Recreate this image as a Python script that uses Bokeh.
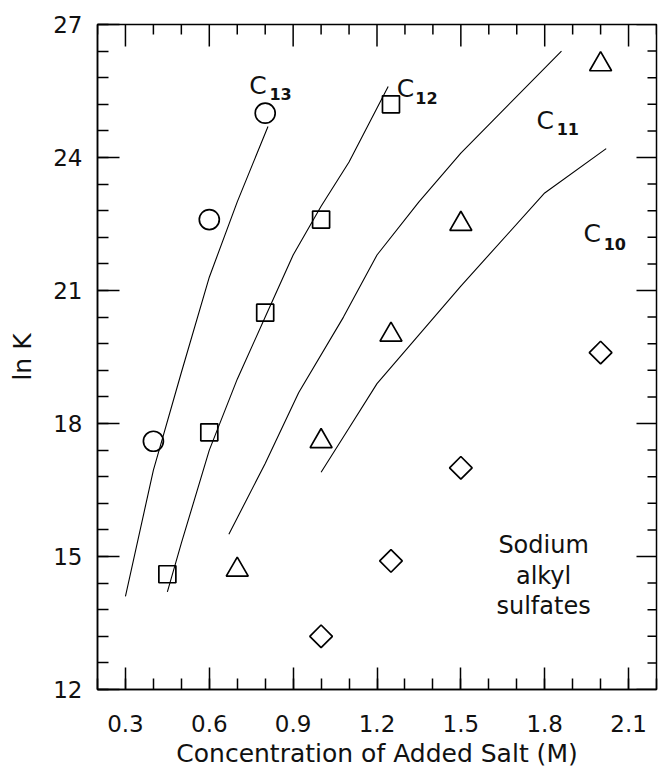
from bokeh.plotting import figure
from bokeh.models import Range1d, FixedTicker, ColumnDataSource
from bokeh.core.properties import value
from bokeh.embed import file_html
from bokeh.resources import INLINE
import math

# ---- data ----
salt_c13 = [0.4, 0.6, 0.8]
lnk_c13 = [17.6, 22.6, 25.0]
salt_c12 = [0.45, 0.6, 0.8, 1.0, 1.25]
lnk_c12 = [14.6, 17.8, 20.5, 22.6, 25.2]
salt_c11 = [0.7, 1.0, 1.25, 1.5, 2.0]
lnk_c11 = [14.7, 17.6, 20.0, 22.5, 26.1]
salt_c10 = [1.0, 1.25, 1.5, 2.0]
lnk_c10 = [13.2, 14.9, 17.0, 19.6]

fit_c13_x = [0.3, 0.4, 0.5, 0.6, 0.7, 0.81]
fit_c13_y = [14.1, 16.95, 19.15, 21.3, 23.0, 24.7]
fit_c12_x = [0.45, 0.5, 0.6, 0.7, 0.8, 0.9, 1.0, 1.1, 1.24]
fit_c12_y = [14.2, 15.3, 17.4, 19.0, 20.4, 21.8, 22.9, 23.9, 25.6]
fit_c11_x = [0.67, 0.8, 0.92, 1.08, 1.2, 1.35, 1.5, 1.86]
fit_c11_y = [15.5, 17.1, 18.7, 20.4, 21.8, 23.0, 24.1, 26.4]
fit_c10_x = [1.0, 1.1, 1.2, 1.35, 1.5, 1.8, 2.02]
fit_c10_y = [16.9, 17.9, 18.9, 20.0, 21.1, 23.2, 24.2]

x_ticks = [0.3, 0.6, 0.9, 1.2, 1.5, 1.8, 2.1]
x_tick_labels = ["0.3", "0.6", "0.9", "1.2", "1.5", "1.8", "2.1"]
y_ticks = [12, 15, 18, 21, 24, 27]
y_tick_labels = ["12", "15", "18", "21", "24", "27"]

series_names = ["C", "C", "C", "C"]
series_subs = ["13", "12", "11", "10"]
series_label_x = [0.743, 1.271, 1.771, 1.939]
series_label_y = [25.62, 25.556, 24.83, 22.29]
series_sub_x = [0.815, 1.337, 1.843, 2.011]
series_sub_y = [25.44, 25.35, 24.65, 22.06]

note_lines = ["Sodium", "alkyl", "sulfates"]
note_x = [1.796, 1.796, 1.796]
note_y = [15.25, 14.57, 13.89]

FONT = "DejaVu Sans"
INK = "#111111"

x_range = Range1d(0.2, 2.2)
y_range = Range1d(12, 27)
p = figure(width=660, height=776, output_backend="svg", toolbar_location=None,
           x_range=x_range, y_range=y_range,
           min_border_left=97, min_border_right=4, min_border_top=24, min_border_bottom=87,
           x_axis_label="Concentration of Added Salt (M)", y_axis_label="ln K")
p.grid.visible = False
p.background_fill_color = "white"
p.border_fill_color = "white"
p.outline_line_color = "black"
p.outline_line_width = 1.5

x_minor = [round(0.2 + 0.1 * i, 2) for i in range(21)]
y_minor = [round(12 + 0.6 * i, 2) for i in range(26)]

MAJOR, MINOR = 22, 11

def style_axis(ax, ticks, minor, labels):
    ax.ticker = FixedTicker(ticks=ticks, minor_ticks=minor)
    ax.major_label_overrides = {t: l for t, l in zip(ticks, labels)}
    ax.axis_line_color = "black"
    ax.axis_line_width = 1.5
    ax.major_tick_line_color = "black"
    ax.minor_tick_line_color = "black"
    ax.major_tick_line_width = 1.5
    ax.minor_tick_line_width = 1.5
    ax.major_tick_in = MAJOR
    ax.major_tick_out = 0
    ax.minor_tick_in = MINOR
    ax.minor_tick_out = 0
    ax.major_label_text_font = FONT
    ax.major_label_text_font_size = "23px"
    ax.major_label_text_color = INK
    ax.axis_label_text_font = FONT
    ax.axis_label_text_font_size = "25px"
    ax.axis_label_text_font_style = "normal"
    ax.axis_label_text_color = INK

style_axis(p.xaxis[0], x_ticks, x_minor, x_tick_labels)
style_axis(p.yaxis[0], y_ticks, y_minor, y_tick_labels)
p.xaxis[0].major_label_standoff = 25
p.yaxis[0].major_label_standoff = 15
p.xaxis[0].axis_label_standoff = 4
p.yaxis[0].axis_label_standoff = 13

# mirrored inward ticks on the top and right edges (dashes centred on the edge,
# the outer half is clipped by the frame)
tick_style = dict(line_color="black", line_width=1.5)
x_minor_only = [v for v in x_minor if v not in x_ticks]
y_minor_only = [v for v in y_minor if v not in y_ticks]
p.scatter(x_ticks, [y_range.end] * len(x_ticks), marker="dash", size=2 * MAJOR,
          angle=math.pi / 2, **tick_style)
p.scatter(x_minor_only, [y_range.end] * len(x_minor_only), marker="dash", size=2 * (MINOR - 1),
          angle=math.pi / 2, **tick_style)
p.scatter([x_range.end] * len(y_ticks), y_ticks, marker="dash", size=2 * (MAJOR - 2), **tick_style)
p.scatter([x_range.end] * len(y_minor_only), y_minor_only, marker="dash", size=2 * (MINOR - 2),
          **tick_style)

# fitted curves
for fx, fy in [(fit_c13_x, fit_c13_y), (fit_c12_x, fit_c12_y),
               (fit_c11_x, fit_c11_y), (fit_c10_x, fit_c10_y)]:
    p.line(fx, fy, line_color="black", line_width=1.1)

mk = dict(line_color="black", line_width=1.7, fill_alpha=0)
p.scatter(salt_c13, lnk_c13, marker="circle", size=20, **mk)
p.scatter(salt_c12, lnk_c12, marker="square", size=17, **mk)
p.scatter(salt_c11, lnk_c11, marker="triangle", size=22, **mk)
p.scatter(salt_c10, lnk_c10, marker="square", size=16, angle=math.pi / 4, **mk)

lab = ColumnDataSource(dict(x=series_label_x, y=series_label_y, t=series_names))
p.text(x="x", y="y", text="t", source=lab, text_font=value(FONT), text_font_size="25px",
       text_align="left", text_baseline="alphabetic", text_color=INK)
sub = ColumnDataSource(dict(x=series_sub_x, y=series_sub_y, t=series_subs))
p.text(x="x", y="y", text="t", source=sub, text_font=value(FONT), text_font_size="16px",
       text_font_style="bold", text_align="left", text_baseline="alphabetic", text_color=INK)
note = ColumnDataSource(dict(x=note_x, y=note_y, t=note_lines))
p.text(x="x", y="y", text="t", source=note, text_font=value(FONT), text_font_size="24px",
       text_align="center", text_baseline="alphabetic", text_color=INK)

open("out.html", "w").write(file_html(p, INLINE))
